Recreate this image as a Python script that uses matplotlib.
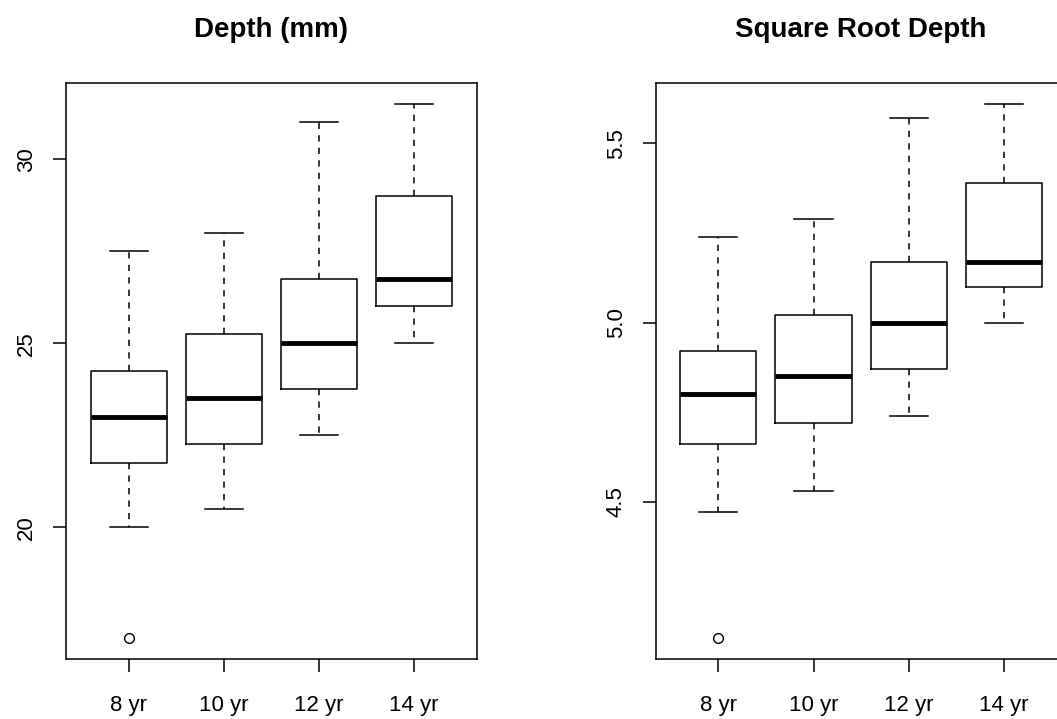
import matplotlib
matplotlib.use("Agg")
import matplotlib.pyplot as plt

plt.rcParams['font.family'] = ['Liberation Sans', 'DejaVu Sans']
plt.rcParams['lines.scale_dashes'] = False

categories = ["8 yr", "10 yr", "12 yr", "14 yr"]

# Depth (mm): whisker low, Q1, median, Q3, whisker high, outliers
depth_whislo = [20.0, 20.5, 22.5, 25.0]
depth_q1 = [21.75, 22.25, 23.75, 26.0]
depth_med = [23.0, 23.5, 25.0, 26.75]
depth_q3 = [24.25, 25.25, 26.75, 29.0]
depth_whishi = [27.5, 28.0, 31.0, 31.5]
depth_fliers = [[17.0], [], [], []]

# Square root depth
sqrt_whislo = [4.47, 4.53, 4.74, 5.00]
sqrt_q1 = [4.66, 4.72, 4.87, 5.10]
sqrt_med = [4.80, 4.85, 5.00, 5.17]
sqrt_q3 = [4.92, 5.02, 5.17, 5.39]
sqrt_whishi = [5.24, 5.29, 5.57, 5.61]
sqrt_fliers = [[4.12], [], [], []]

depth_ticks = [20, 25, 30]
depth_ticklabels = ["20", "25", "30"]
sqrt_ticks = [4.5, 5.0, 5.5]
sqrt_ticklabels = ["4.5", "5.0", "5.5"]

W, H = 1057, 719
fig = plt.figure(figsize=(W / 100, H / 100), dpi=100)

def make_ax(x0, x1, y_top, y_bot):
    return fig.add_axes([x0 / W, 1 - y_bot / H, (x1 - x0) / W, (y_bot - y_top) / H])

ax1 = make_ax(65.8, 477.0, 82.7, 659.0)
ax2 = make_ax(655.5, 1066.7, 82.7, 659.0)

def draw(ax, title, lo, q1, med, q3, hi, fl, ticks, ticklabels):
    stats = []
    for i, lab in enumerate(categories):
        stats.append(dict(label=lab, whislo=lo[i], q1=q1[i], med=med[i],
                          q3=q3[i], whishi=hi[i], fliers=fl[i]))
    lw = 1.1
    ax.bxp(stats, positions=range(1, len(categories) + 1), widths=0.8,
           capwidths=0.4, showfliers=True,
           boxprops=dict(color='black', linewidth=lw),
           whiskerprops=dict(color='black', linewidth=lw, linestyle=(0, (4.5, 4.5))),
           capprops=dict(color='black', linewidth=lw),
           medianprops=dict(color='black', linewidth=3.5, solid_capstyle='butt'),
           flierprops=dict(marker='o', markerfacecolor='none', markeredgecolor='black',
                           markersize=7, markeredgewidth=1.0))
    n = len(categories)
    xlo, xhi = 0.5, n + 0.5
    xr = xhi - xlo
    ax.set_xlim(xlo - 0.04 * xr, xhi + 0.04 * xr)
    allv = list(lo) + list(hi) + [v for f in fl for v in f]
    ymin, ymax = min(allv), max(allv)
    yr = ymax - ymin
    ax.set_ylim(ymin - 0.04 * yr, ymax + 0.04 * yr)
    ax.set_yticks(ticks)
    ax.set_yticklabels(ticklabels, rotation=90, va='center')
    ax.set_xticks(range(1, n + 1))
    ax.set_xticklabels(categories)
    ax.tick_params(axis='both', direction='out', length=9.7, width=1.1,
                   labelsize=16, colors='black')
    ax.tick_params(axis='x', pad=16)
    ax.tick_params(axis='y', pad=11)
    for s in ax.spines.values():
        s.set_linewidth(1.1)
        s.set_color('black')
    ax.set_title(title, fontsize=20, fontweight='bold', pad=33)

draw(ax1, "Depth (mm)", depth_whislo, depth_q1, depth_med, depth_q3, depth_whishi,
     depth_fliers, depth_ticks, depth_ticklabels)
draw(ax2, "Square Root Depth", sqrt_whislo, sqrt_q1, sqrt_med, sqrt_q3, sqrt_whishi,
     sqrt_fliers, sqrt_ticks, sqrt_ticklabels)

fig.savefig("out.png", dpi=100)
